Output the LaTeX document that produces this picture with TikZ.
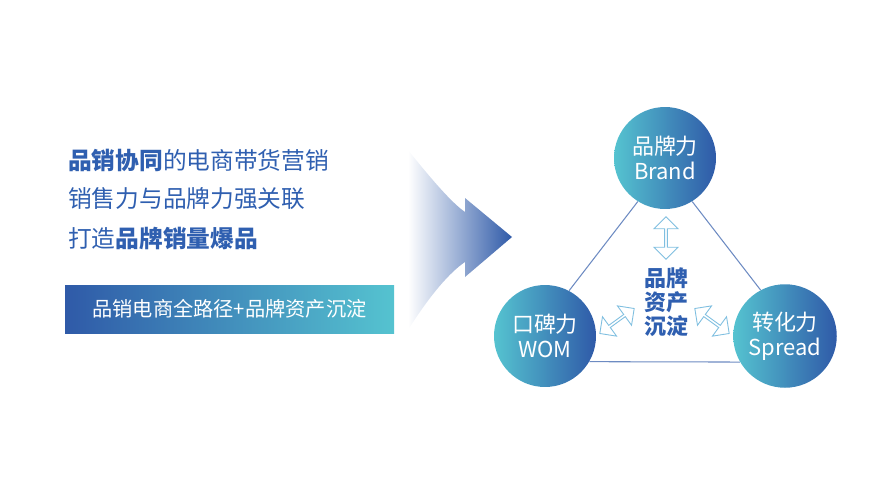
\documentclass[tikz,border=0pt]{standalone}
\usepackage{fontspec}
\setmainfont{Noto Sans CJK SC}
\usetikzlibrary{shapes.arrows}
\definecolor{deepblue}{HTML}{2F5AA8}
\definecolor{lightcyan}{HTML}{55C3D0}
\definecolor{textblue}{HTML}{2F5FB0}
\definecolor{arrowline}{HTML}{7FBFE0}
\tikzset{
    ballnode/.style = {circle, minimum size=2.04cm, left color=lightcyan, right color=deepblue, text=white, align=center, font=\fontsize{12.5}{14}\selectfont},
    linen/.style = {draw=deepblue!70, line width=0.6pt},
    dblarrow/.style = {double arrow, draw=arrowline, fill=white, minimum height=0.85cm, minimum width=0.48cm, double arrow head extend=0.07cm, inner sep=0pt, line width=0.5pt},
    leadtext/.style = {anchor=west, text=textblue, font=\fontsize{13.5}{14}\selectfont},
}
\begin{document}
\begin{tikzpicture}[x=0.02cm, y=-0.02cm]
\useasboundingbox (0,0) rectangle (888,500);
% left text
\node[leadtext] (l1) at (62,160) {\textbf{品销协同}的电商带货营销};
\node[leadtext] (l2) at (62,199) {销售力与品牌力强关联};
\node[leadtext] (l3) at (62,238) {打造\textbf{品牌销量爆品}};
\shade[left color=deepblue, right color=lightcyan] (65,285) rectangle (394,333);
\node[text=white, font=\fontsize{11.5}{12}\selectfont] (bar) at (229.5,309) {品销电商全路径+品牌资产沉淀};
% big arrow
\shade[left color=white, right color=deepblue]
  (408,150) .. controls (440,190) and (455,205) .. (465,212)
  -- (465,198) -- (512,237) -- (465,277) -- (465,262)
  .. controls (450,272) and (430,295) .. (408,330) -- cycle;
% circles
\node[ballnode] (brand) at (665,158) {品牌力\\Brand};
\node[ballnode] (wom) at (545,336) {口碑力\\WOM};
\node[ballnode] (spread) at (785,336) {转化力\\Spread};
\draw[linen] (brand.238) -- (wom.62);
\draw[linen] (brand.302) -- (spread.118);
\draw[linen] (wom.-30) -- (spread.210);
% centre
\node[text=textblue, align=center, font=\fontsize{12.5}{13.5}\selectfont\bfseries] (core) at (666,302) {品牌\\资产\\沉淀};
\node[dblarrow, rotate=90] (a1) at (666,238) {};
\node[dblarrow, rotate=36] (a2) at (617,321) {};
\node[dblarrow, rotate=-36] (a3) at (712,321) {};
\end{tikzpicture}
\end{document}
